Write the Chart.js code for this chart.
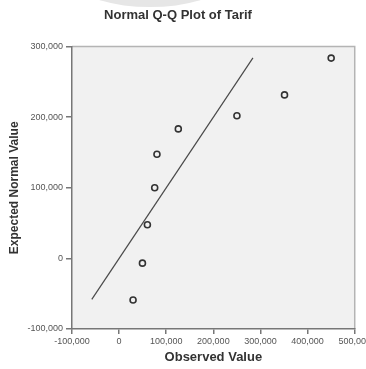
<!DOCTYPE html>
<html>
<head>
<meta charset="utf-8">
<script src="https://cdn.jsdelivr.net/npm/chart.js@4/dist/chart.umd.min.js"></script>
<style>
  html, body { margin: 0; padding: 0; background: #ffffff; overflow: hidden; width: 366px; height: 369px; }
  canvas { display: block; }
</style>
</head>
<body>
<canvas id="c" width="373" height="369"></canvas>
<script>
// ---- data ----
const chartTitle = 'Normal Q-Q Plot of Tarif';
const xAxisTitle = 'Observed Value';
const yAxisTitle = 'Expected Normal Value';
const observed = [29600, 49500, 60000, 75500, 80300, 125600, 250000, 351000, 450000];
const expected = [-59000, -6700, 47700, 100000, 147500, 183400, 202000, 231600, 283700];
const refLineX = [-58000, 284000];
const refLineY = [-58000, 284000];
const xTicks = [-100000, 0, 100000, 200000, 300000, 400000, 500000];
const yTicks = [-100000, 0, 100000, 200000, 300000];

const points = observed.map((v, i) => ({ x: v, y: expected[i] }));
const refLine = refLineX.map((v, i) => ({ x: v, y: refLineY[i] }));
const fmt = v => v.toLocaleString('en-US');

const plotBg = {
  id: 'plotBg',
  beforeDraw(chart) {
    const { ctx, chartArea: a } = chart;
    ctx.save();
    // faint watermark shape behind the title
    ctx.fillStyle = '#e6e6e6';
    ctx.beginPath();
    ctx.ellipse(150, -14, 68, 21, 0, 0, Math.PI * 2);
    ctx.fill();
    ctx.fillStyle = '#f1f1f1';
    ctx.fillRect(a.left, a.top, a.right - a.left, a.bottom - a.top);
    ctx.strokeStyle = '#b4b4b4';
    ctx.lineWidth = 1.5;
    ctx.beginPath();
    ctx.moveTo(a.left, a.top);
    ctx.lineTo(a.right, a.top);
    ctx.lineTo(a.right, a.bottom);
    ctx.stroke();
    ctx.restore();
  }
};

new Chart(document.getElementById('c'), {
  type: 'scatter',
  data: {
    datasets: [
      {
        type: 'line',
        data: refLine,
        borderColor: '#4a4a4a',
        borderWidth: 1.2,
        pointRadius: 0,
        fill: false,
        order: 2
      },
      {
        data: points,
        pointRadius: 3,
        pointBorderWidth: 1.6,
        borderColor: '#333333',
        backgroundColor: 'rgba(0,0,0,0)',
        order: 1
      }
    ]
  },
  options: {
    responsive: false,
    animation: false,
    layout: { padding: { left: 0, right: 17, top: 0, bottom: 0 } },
    plugins: {
      legend: { display: false },
      tooltip: { enabled: false },
      title: {
        display: true,
        text: chartTitle,
        color: '#333333',
        font: { family: 'Liberation Sans', size: 13, weight: 'bold' },
        padding: { top: 8, bottom: 23 }
      }
    },
    scales: {
      x: {
        type: 'linear',
        min: -100000,
        max: 500000,
        afterBuildTicks: s => { s.ticks = xTicks.map(v => ({ value: v })); },
        afterFit: s => { s.height = 40; },
        border: { display: true, color: '#777777', width: 1.5 },
        grid: { drawOnChartArea: false, drawTicks: true, tickLength: 5, color: '#777777', lineWidth: 1.5 },
        ticks: {
          callback: v => fmt(v),
          color: '#555555',
          font: { family: 'Liberation Sans', size: 9 },
          padding: 2,
          maxRotation: 0,
          autoSkip: false
        },
        title: {
          display: true,
          text: xAxisTitle,
          color: '#333333',
          font: { family: 'Liberation Sans', size: 13, weight: 'bold' },
          padding: { top: 0, bottom: 4 }
        }
      },
      y: {
        type: 'linear',
        min: -100000,
        max: 300000,
        afterBuildTicks: s => { s.ticks = yTicks.map(v => ({ value: v })); },
        afterFit: s => { s.width = 72; },
        border: { display: true, color: '#777777', width: 1.5 },
        grid: { drawOnChartArea: false, drawTicks: true, tickLength: 6, color: '#777777', lineWidth: 1.5 },
        ticks: {
          callback: v => fmt(v),
          color: '#555555',
          font: { family: 'Liberation Sans', size: 9 },
          padding: 3,
          autoSkip: false
        },
        title: {
          display: true,
          text: yAxisTitle,
          color: '#333333',
          font: { family: 'Liberation Sans', size: 12, weight: 'bold' },
          padding: { top: 7, bottom: 0 }
        }
      }
    }
  },
  plugins: [plotBg]
});
</script>
</body>
</html>
